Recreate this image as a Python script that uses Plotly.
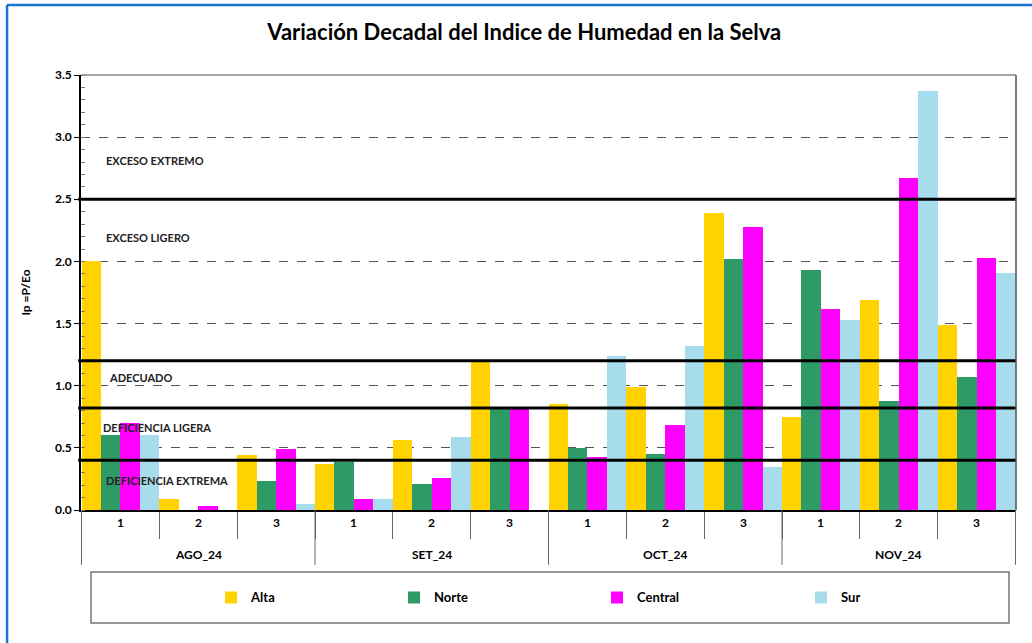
import plotly.graph_objects as go

# ---------------- data ----------------
meses = ["AGO_24"] * 3 + ["SET_24"] * 3 + ["OCT_24"] * 3 + ["NOV_24"] * 3
decadas = ["1", "2", "3"] * 4
meses_unicos = ["AGO_24", "SET_24", "OCT_24", "NOV_24"]

alta = [2.00, 0.09, 0.44, 0.37, 0.56, 1.19, 0.85, 0.99, 2.39, 0.75, 1.69, 1.49]
norte = [0.60, 0.00, 0.23, 0.39, 0.21, 0.81, 0.50, 0.45, 2.02, 1.93, 0.88, 1.07]
central = [0.70, 0.03, 0.49, 0.09, 0.26, 0.81, 0.43, 0.68, 2.28, 1.62, 2.67, 2.03]
sur = [0.60, 0.00, 0.05, 0.09, 0.59, 0.00, 1.24, 1.32, 0.35, 1.53, 3.37, 1.91]

series_names = ["Alta", "Norte", "Central", "Sur"]
series_values = [alta, norte, central, sur]
series_colors = ["#FFD200", "#2E9A66", "#FF00FF", "#A6DCEC"]
legend_x = [0.1391, 0.3348, 0.5519, 0.7701]

umbrales = [0.40, 0.82, 1.20, 2.50]
zonas = ["EXCESO EXTREMO", "EXCESO LIGERO", "ADECUADO", "DEFICIENCIA LIGERA", "DEFICIENCIA EXTREMA"]
zonas_y = [2.81, 2.19, 1.07, 0.66, 0.24]
zonas_x = [0.025, 0.025, 0.028, 0.021, 0.025]

titulo = "Variación Decadal del Indice de Humedad en la Selva"
ytitulo = "Ip =P/Eo"

FONT = "Lato"

fig = go.Figure()
legend_ids = ["legend", "legend2", "legend3", "legend4"]
for name, vals, col, lid in zip(series_names, series_values, series_colors, legend_ids):
    fig.add_trace(go.Bar(
        x=[meses, decadas], y=vals, name=name, legend=lid,
        marker=dict(color=col, line=dict(width=0)),
    ))

shapes = []
# threshold lines
for u in umbrales:
    shapes.append(dict(type="line", xref="paper", yref="y", x0=-0.003, x1=1.0,
                       y0=u, y1=u, line=dict(color="black", width=3), layer="above"))
# plot border (top/right gray)
shapes.append(dict(type="line", xref="paper", yref="paper", x0=0, x1=1, y0=1, y1=1,
                   line=dict(color="#888888", width=1.5)))
shapes.append(dict(type="line", xref="paper", yref="paper", x0=1, x1=1, y0=0, y1=1,
                   line=dict(color="#555555", width=1.5)))
# month dividers below axis
n_dec = len(decadas)
n_mes = len(meses_unicos)
per = n_dec // n_mes
for k in range(n_mes + 1):
    xb = k * per - 0.5
    shapes.append(dict(type="line", xref="x", yref="paper", x0=xb, x1=xb,
                       y0=0, y1=-0.126, line=dict(color="#666666", width=1)))
# legend box
shapes.append(dict(type="rect", xref="paper", yref="paper", x0=0.0107, x1=0.9925,
                   y0=-0.2598, y1=-0.1425, line=dict(color="#777777", width=1.5)))
# blue outer frame
shapes.append(dict(type="line", xref="paper", yref="paper", x0=-0.0791, x1=1.02,
                   y0=1.161, y1=1.161, line=dict(color="#1874CD", width=2.5)))
shapes.append(dict(type="line", xref="paper", yref="paper", x0=-0.0791, x1=-0.0791,
                   y0=1.161, y1=-0.31, line=dict(color="#1874CD", width=2.5)))

annotations = []
for z, zy, zx in zip(zonas, zonas_y, zonas_x):
    annotations.append(dict(text=z, xref="paper", yref="y", x=zx, y=zy,
                            xanchor="left", yanchor="middle", showarrow=False,
                            font=dict(family=FONT, size=11, color="#222222", weight="bold")))
# decade labels
for i, d in enumerate(decadas):
    annotations.append(dict(text=d, xref="x", yref="paper", x=i, y=-0.0276,
                            xanchor="center", yanchor="middle", showarrow=False,
                            font=dict(family=FONT, size=12, color="black", weight="bold")))
# month labels
for k, m in enumerate(meses_unicos):
    annotations.append(dict(text=m, xref="x", yref="paper", x=k * per + (per - 1) / 2,
                            y=-0.1034, xanchor="center", yanchor="middle", showarrow=False,
                            font=dict(family=FONT, size=12, color="black", weight="bold")))

legend_common = dict(orientation="h", xanchor="left", y=-0.201, yanchor="middle",
                     bgcolor="rgba(0,0,0,0)", borderwidth=0, itemwidth=30,
                     font=dict(family=FONT, size=13, color="black", weight="bold"),
                     itemclick=False, itemdoubleclick=False)
legend_layout = {}
for lid, lx in zip(legend_ids, legend_x):
    legend_layout[lid] = dict(x=lx, **legend_common)

fig.update_layout(
    width=1032, height=643,
    margin=dict(l=81, r=16, t=75, b=133),
    paper_bgcolor="white", plot_bgcolor="white",
    title=dict(text=titulo, x=0.508, xanchor="center", y=0.949, yanchor="middle",
               font=dict(family=FONT, size=22, color="black", weight="bold")),
    barmode="group", bargap=0, bargroupgap=0,
    shapes=shapes, annotations=annotations,
    showlegend=True,
    font=dict(family=FONT),
    **legend_layout,
)

fig.update_yaxes(
    range=[0, 3.5], dtick=0.5, tickformat=".1f",
    showgrid=True, gridcolor="#555555", griddash="dash", gridwidth=1,
    showline=True, linecolor="black", linewidth=1.5,
    ticks="outside", ticklen=5, tickcolor="black",
    minor=dict(dtick=0.1, ticks="inside", ticklen=4, tickcolor="#777777", showgrid=False),
    tickfont=dict(family=FONT, size=12, color="black", weight="bold"),
    title=dict(text=ytitulo, standoff=22,
               font=dict(family=FONT, size=12, color="black", weight="bold")),
    zeroline=False,
)
fig.update_xaxes(
    showline=True, linecolor="black", linewidth=1.5,
    ticks="outside", tickson="boundaries", ticklen=27, tickcolor="#666666",
    showticklabels=False, showdividers=False,
    showgrid=False,
)

fig.write_html("out.html", config={"displayModeBar": False},
               post_script="document.body.style.margin='0';")
